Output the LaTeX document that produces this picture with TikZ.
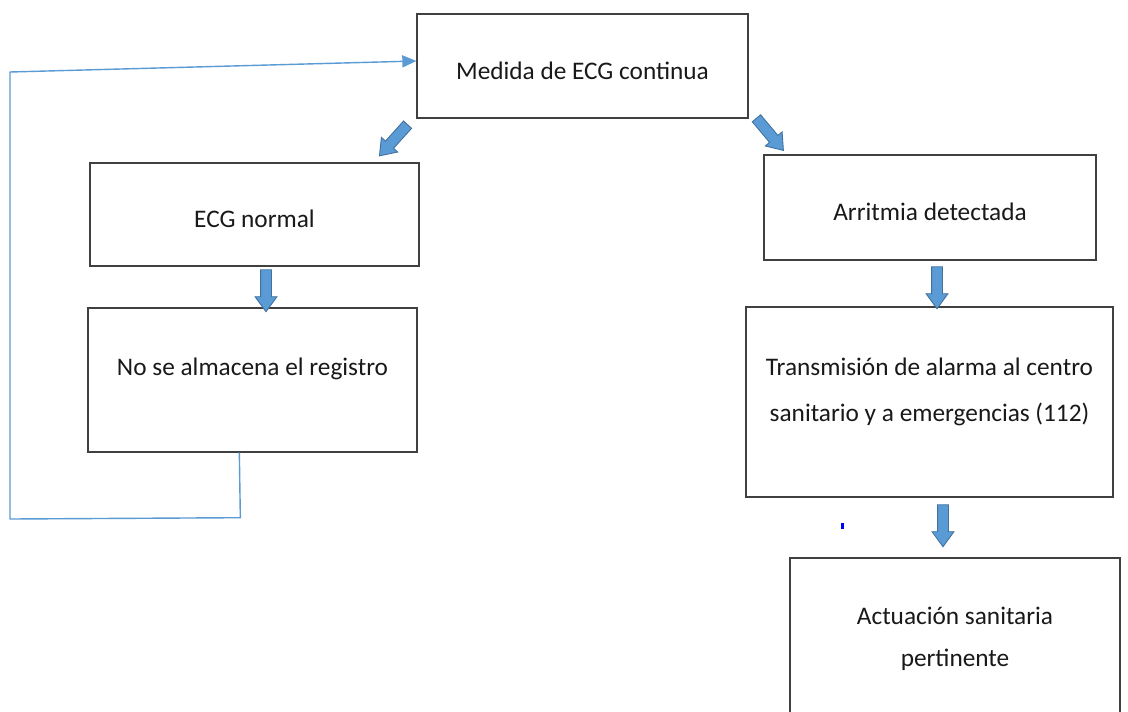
\documentclass[tikz,border=0pt]{standalone}
\usepackage{fontspec}
\setmainfont{Carlito}
\usetikzlibrary{positioning,shapes.arrows,arrows.meta,calc}
\definecolor{arrowblue}{RGB}{91,155,213}
\definecolor{arrowedge}{RGB}{65,113,156}
\tikzset{
  box/.style={rectangle, draw=black!75, line width=0.8pt, text=black!90, text height=0.6cm, text depth=0.08cm},
  txt/.style={align=center, text=black!90, inner sep=0pt},
  blockarrow/.style={single arrow, fill=arrowblue, draw=arrowedge, line width=0.5pt, minimum height=0.84cm, inner xsep=0pt, inner ysep=0.1cm, single arrow head extend=0.11cm, single arrow tip angle=72},
  loopline/.style={draw=arrowblue, line width=0.8pt, -{Triangle[length=0.28cm,width=0.24cm]}}
}

\begin{document}
\begin{tikzpicture}[x=0.02cm, y=-0.02cm, font=\fontsize{14.4}{26}\selectfont]
    \fill[white] (0,0) rectangle (1128,711);
    \useasboundingbox (0,0) rectangle (1128,711);

    \node[box, minimum width=6.62cm, minimum height=2.08cm] (medida) at (582.5,66) {Medida de ECG continua};
    \node[box, minimum width=6.58cm, minimum height=2.06cm] (normal) at (254.5,214.5) {ECG normal};
    \node[box, minimum width=6.58cm, minimum height=2.88cm] (reg) at (252.5,380) {};
    \node[txt] (regtext) at (252.5,369) {No se almacena el registro};
    \node[box, minimum width=6.64cm, minimum height=2.10cm] (arritmia) at (930,207.5) {Arritmia detectada};
    \node[box, minimum width=7.34cm, minimum height=3.80cm] (alarma) at (929.5,402) {};
    \node[txt] (alarmatext) at (929.5,392) {Transmisión de alarma al centro\\sanitario y a emergencias (112)};
    \node[box, minimum width=6.60cm, minimum height=4cm] (actuacion) at (955,658) {};
    \node[txt, font=\fontsize{14.4}{24}\selectfont] (actuaciontext) at (955,639) {Actuación sanitaria\\pertinente};

    % block arrows between the boxes
    \node[blockarrow, rotate=-132] (toNormal) at (396,137.5) {};
    \node[blockarrow, rotate=-50] (toArritmia) at (767.5,131.5) {};
    \node[blockarrow, rotate=-90] (toReg) at (266,287) {};
    \node[blockarrow, rotate=-90] (toAlarma) at (937,284) {};
    \node[blockarrow, rotate=-90] (toActuacion) at (943,522) {};

    % back to the measurement
    \coordinate (loopStart) at ($(reg.south west)+(152,0)$);
    \draw[loopline] (loopStart) -- ++(1,65) -- (10,519) -- (10,72) -- ([yshift=0.1cm]medida.west);

    \fill[blue] (841,523) rectangle (844,529);
\end{tikzpicture}
\end{document}
